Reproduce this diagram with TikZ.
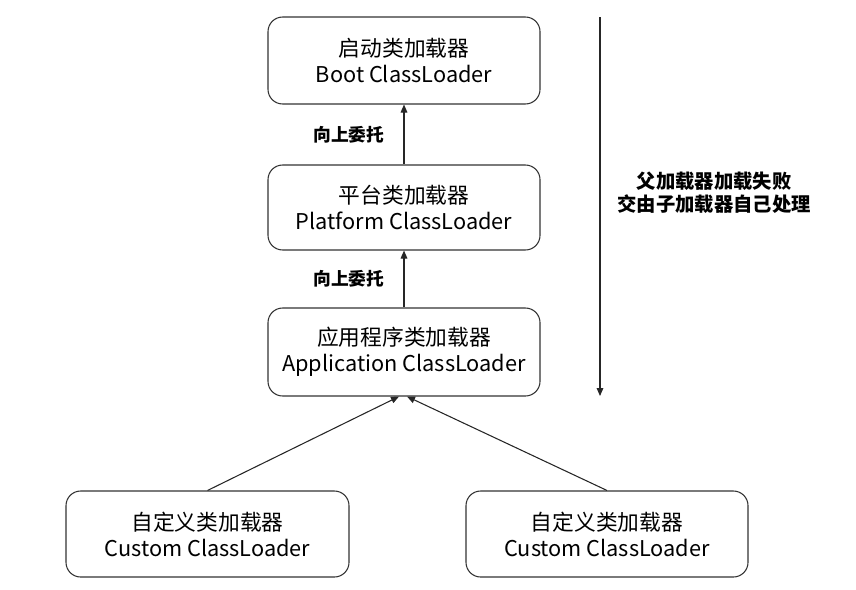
\documentclass[tikz,border=0pt]{standalone}
\usepackage{fontspec}
\setmainfont{Noto Sans CJK SC}
\usetikzlibrary{arrows.meta}
\begin{document}
\begin{tikzpicture}[x=0.75pt,y=-0.75pt,
  box/.style={draw=black!80,line width=0.8pt,rounded corners=11pt,fill=white,align=center,
    inner sep=0pt,font=\fontsize{16.3pt}{19.5pt}\selectfont},
  lbl/.style={font=\fontsize{13.3pt}{16pt}\selectfont\bfseries},
  arr/.style={-{Triangle[length=6pt,width=5pt]},line width=0.8pt,draw=black!85}]
\useasboundingbox (0,0) rectangle (856,589);
\node[box,minimum width=272*0.75pt,minimum height=87*0.75pt] (boot) at (404,60.5) {启动类加载器\\Boot ClassLoader};
\node[box,minimum width=272*0.75pt,minimum height=85*0.75pt] (plat) at (404,207.5) {平台类加载器\\Platform ClassLoader};
\node[box,minimum width=272*0.75pt,minimum height=88*0.75pt] (app) at (404,352) {应用程序类加载器\\Application ClassLoader};
\node[box,minimum width=283*0.75pt,minimum height=86*0.75pt] (c1) at (207.5,534) {自定义类加载器\\Custom ClassLoader};
\node[box,minimum width=282*0.75pt,minimum height=86*0.75pt] (c2) at (607,534) {自定义类加载器\\Custom ClassLoader};
\draw[arr] (plat.north) -- (boot.south) node[lbl,midway,left=11pt] {向上委托};
\draw[arr] (app.north) -- (plat.south) node[lbl,midway,left=11pt] {向上委托};
\coordinate (a1) at (399,396.5);
\coordinate (a2) at (407,396.5);
\draw[arr] (c1.north) -- (a1);
\draw[arr] (c2.north) -- (a2);
\coordinate (vtop) at (600,17);
\coordinate (vbot) at (600,396);
\draw[arr] (vtop) -- (vbot);
\node[lbl,align=center,font=\fontsize{14.5pt}{17.5pt}\selectfont\bfseries] (note) at (714,193) {父加载器加载失败\\交由子加载器自己处理};
\end{tikzpicture}
\end{document}
